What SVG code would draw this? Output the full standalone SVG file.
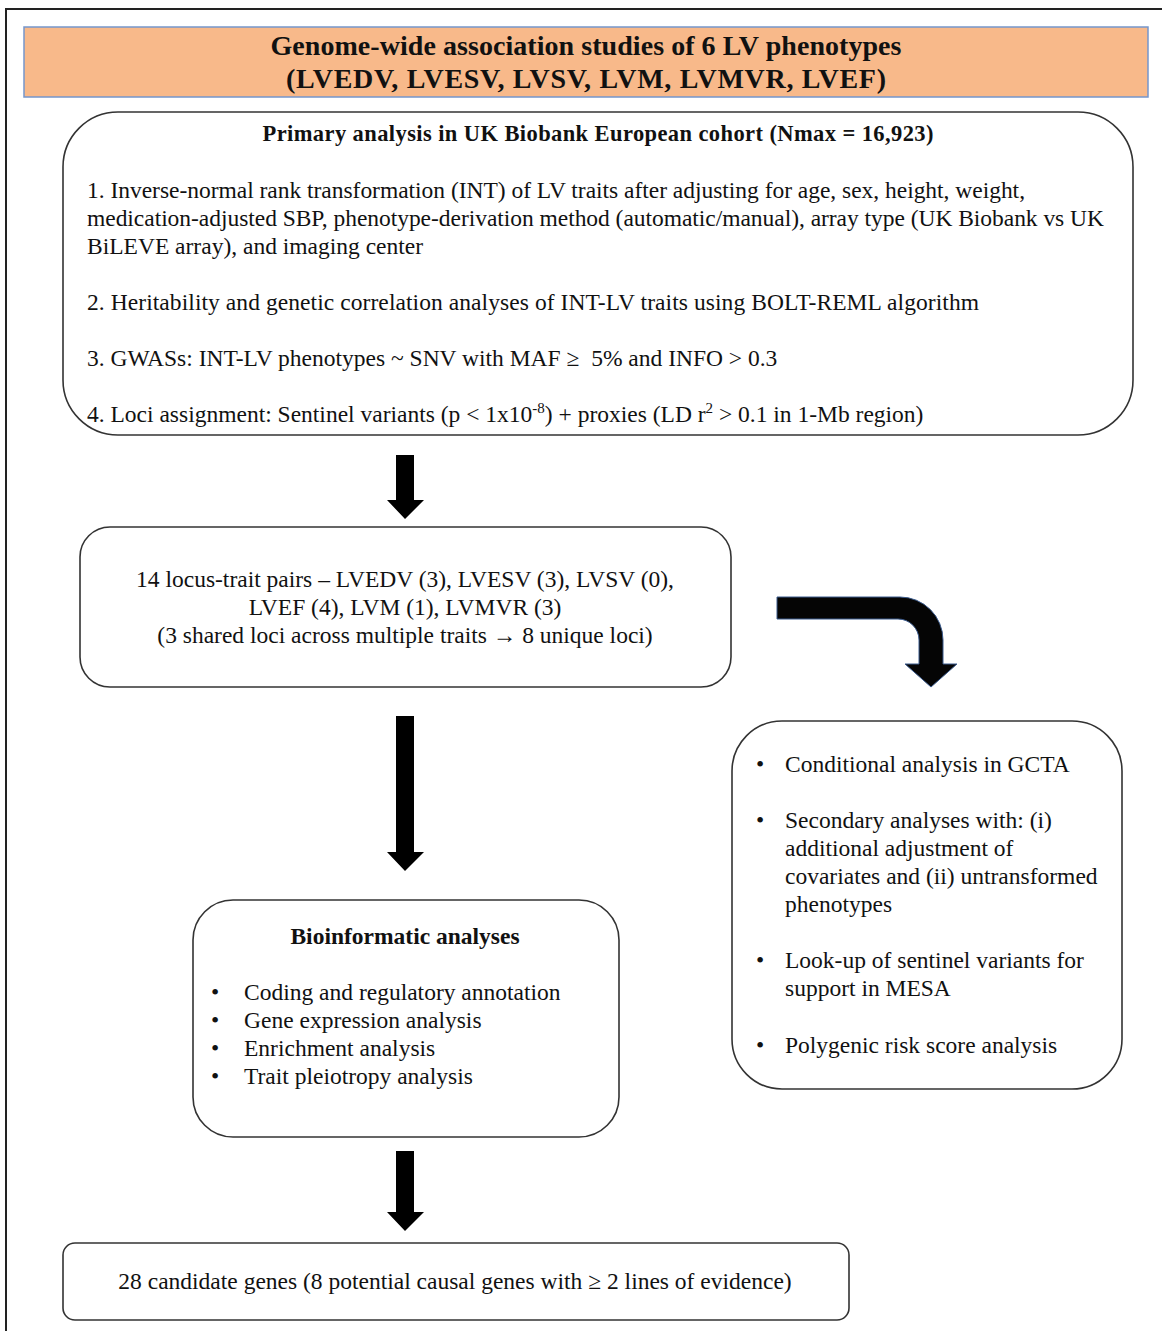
<svg xmlns="http://www.w3.org/2000/svg" width="1162" height="1331" viewBox="0 0 1162 1331">
<style>
.box{fill:#fff;stroke:#333;stroke-width:1.6}
.t{font-family:"Liberation Serif","Times New Roman",serif;font-size:23.5px;fill:#111}
.b{font-weight:bold}
.h{font-family:"Liberation Serif","Times New Roman",serif;font-size:28px;font-weight:bold;fill:#111}
.c{text-anchor:middle}
.arr{fill:#000}
.carr{fill:#050505;stroke:#3a5a8c;stroke-width:1}
</style>
<rect x="0" y="0" width="1162" height="1331" fill="#fff"/>
<path d="M6,1331 V9 H1162" fill="none" stroke="#222" stroke-width="2"/>

<g id="header">
<rect x="24" y="27" width="1124" height="70" fill="#F8B98A" stroke="#7596CC" stroke-width="1.5"/>
<text class="h c" x="586" y="55" textLength="631">Genome-wide association studies of 6 LV phenotypes</text>
<text class="h c" x="586" y="88" textLength="600">(LVEDV, LVESV, LVSV, LVM, LVMVR, LVEF)</text>
</g>

<g id="primary">
<rect class="box" x="63" y="112" width="1070" height="323" rx="55" ry="55"/>
<text class="t b c" x="598" y="141" style="font-size:22.5px" textLength="671">Primary analysis in UK Biobank European cohort (Nmax = 16,923)</text>
<text class="t" x="87" y="198" textLength="938">1. Inverse-normal rank transformation (INT) of LV traits after adjusting for age, sex, height, weight,</text>
<text class="t" x="87" y="226" textLength="1017">medication-adjusted SBP, phenotype-derivation method (automatic/manual), array type (UK Biobank vs UK</text>
<text class="t" x="87" y="254">BiLEVE array), and imaging center</text>
<text class="t" x="87" y="310" textLength="892">2. Heritability and genetic correlation analyses of INT-LV traits using BOLT-REML algorithm</text>
<text class="t" x="87" y="366" xml:space="preserve">3. GWASs: INT-LV phenotypes ~ SNV with MAF ≥  5% and INFO &gt; 0.3</text>
<text class="t" x="87" y="422">4. Loci assignment: Sentinel variants (p &lt; 1x10<tspan dy="-9" style="font-size:15px">-8</tspan><tspan dy="9">) + proxies (LD r</tspan><tspan dy="-9" style="font-size:15px">2</tspan><tspan dy="9"> &gt; 0.1 in 1-Mb region)</tspan></text>
</g>

<g id="loci">
<rect class="box" x="80" y="527" width="651" height="160" rx="30" ry="30"/>
<text class="t c" x="405" y="587">14 locus-trait pairs – LVEDV (3), LVESV (3), LVSV (0),</text>
<text class="t c" x="405" y="615">LVEF (4), LVM (1), LVMVR (3)</text>
<text class="t c" x="405" y="643">(3 shared loci across multiple traits → 8 unique loci)</text>
</g>

<g id="bioinformatic">
<rect class="box" x="193" y="900" width="426" height="237" rx="40" ry="40"/>
<text class="t b c" x="405" y="944">Bioinformatic analyses</text>
<text class="t" x="211" y="1000">•</text><text class="t" x="244" y="1000">Coding and regulatory annotation</text>
<text class="t" x="211" y="1028">•</text><text class="t" x="244" y="1028">Gene expression analysis</text>
<text class="t" x="211" y="1056">•</text><text class="t" x="244" y="1056">Enrichment analysis</text>
<text class="t" x="211" y="1084">•</text><text class="t" x="244" y="1084">Trait pleiotropy analysis</text>
</g>

<g id="secondary">
<rect class="box" x="732" y="721" width="390" height="368" rx="50" ry="50"/>
<text class="t" x="756" y="772">•</text><text class="t" x="785" y="772">Conditional analysis in GCTA</text>
<text class="t" x="756" y="828">•</text><text class="t" x="785" y="828">Secondary analyses with: (i)</text>
<text class="t" x="785" y="856">additional adjustment of</text>
<text class="t" x="785" y="884">covariates and (ii) untransformed</text>
<text class="t" x="785" y="912">phenotypes</text>
<text class="t" x="756" y="968">•</text><text class="t" x="785" y="968">Look-up of sentinel variants for</text>
<text class="t" x="785" y="996">support in MESA</text>
<text class="t" x="756" y="1053">•</text><text class="t" x="785" y="1053">Polygenic risk score analysis</text>
</g>

<g id="genes">
<rect class="box" x="63" y="1243" width="786" height="77" rx="12" ry="12"/>
<text class="t c" x="455" y="1289">28 candidate genes (8 potential causal genes with ≥ 2 lines of evidence)</text>
</g>

<g id="connectors">
<path class="arr" d="M396,455 H414 V500 H424 L405,519 L387,500 H396 Z"/>
<path class="arr" d="M396,716 H414 V852 H424 L405,871 L387,852 H396 Z"/>
<path class="arr" d="M396,1151 H414 V1212 H424 L405,1231 L387,1212 H396 Z"/>
<path class="carr" d="M777,597 H900 A43,43 0 0 1 943,640 V664 H957 L931,687 L905,664 H919 V640 A21,21 0 0 0 898,619 H777 Z"/>
</g>
</svg>
